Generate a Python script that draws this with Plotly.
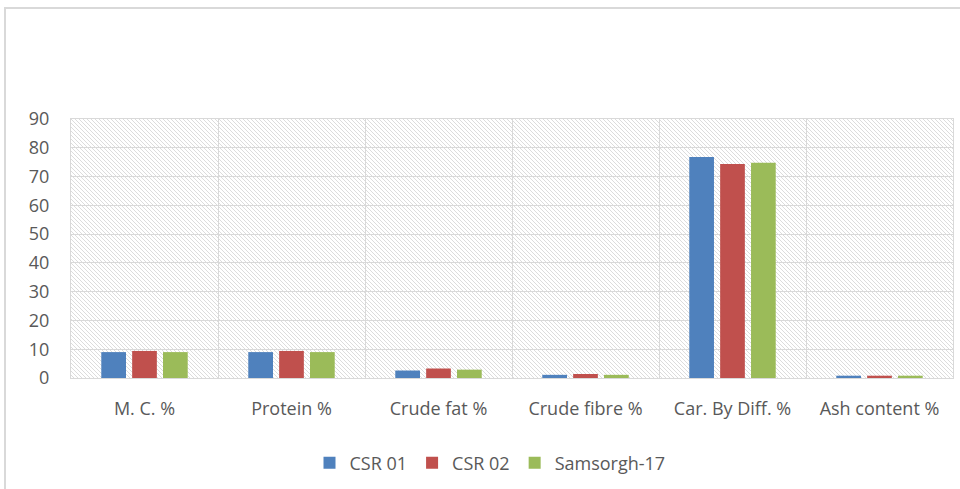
import base64
import plotly.graph_objects as go

categories = ["M. C. %", "Protein %", "Crude fat %", "Crude fibre %", "Car. By Diff. %", "Ash content %"]
csr01 = [9.0, 9.0, 2.6, 1.1, 76.8, 0.8]
csr02 = [9.4, 9.4, 3.3, 1.4, 74.4, 0.8]
samsorgh17 = [9.0, 9.0, 2.9, 1.1, 74.8, 0.8]
series_names = ["CSR 01", "CSR 02", "Samsorgh-17"]
colors = ["#4F81BD", "#C0504D", "#9BBB59"]
y_ticks = [0, 10, 20, 30, 40, 50, 60, 70, 80, 90]

W, H = 960, 489
L, R, T, B = 71, 7, 119, 111
pw, ph = W - L - R, H - T - B

svg = (
    f'<svg xmlns="http://www.w3.org/2000/svg" width="{pw}" height="{ph}">'
    '<defs><pattern id="h" patternUnits="userSpaceOnUse" width="4" height="4">'
    '<path d="M-1,-1 L5,5 M-1,3 L1,5 M3,-1 L5,1" stroke="#DCDCDC" stroke-width="1"/>'
    '</pattern></defs>'
    f'<rect width="{pw}" height="{ph}" fill="white"/>'
    f'<rect width="{pw}" height="{ph}" fill="url(#h)"/></svg>'
)
src = "data:image/svg+xml;base64," + base64.b64encode(svg.encode()).decode()

fig = go.Figure()
for name, vals, c in zip(series_names, [csr01, csr02, samsorgh17], colors):
    fig.add_trace(go.Bar(x=categories, y=vals, name=name, marker=dict(color=c, line=dict(width=0))))

font = "Open Sans"
tick_color = "#595959"
fs = 18

def px_to_paper_x(px):
    return (px - L) / pw

def px_to_paper_y(py):
    return (H - B - py) / ph

fig.update_layout(
    width=W, height=H,
    margin=dict(l=L, r=R, t=T, b=B),
    paper_bgcolor="white",
    plot_bgcolor="rgba(0,0,0,0)",
    barmode="group",
    bargap=0.37,
    bargroupgap=0.2,
    font=dict(family=font, size=fs, color=tick_color),
    images=[dict(source=src, xref="paper", yref="paper", x=0, y=1, sizex=1, sizey=1,
                 xanchor="left", yanchor="top", sizing="stretch", layer="below")],
    xaxis=dict(
        tickson="boundaries", showgrid=True, gridcolor="#D9D9D9", gridwidth=1,
        showline=True, linecolor="#D9D9D9", linewidth=1, mirror=True, automargin=False,
        ticks="", ticklabelstandoff=14, tickfont=dict(size=fs, color=tick_color),
    ),
    yaxis=dict(
        range=[0, 90], tickvals=y_ticks, showgrid=True, gridcolor="#D9D9D9", gridwidth=1,
        showline=True, linecolor="#D9D9D9", linewidth=1, mirror=True, zeroline=False,
        automargin=False,
        ticks="", ticklabelstandoff=17, tickfont=dict(size=fs, color=tick_color),
    ),
    legend=dict(
        orientation="h", x=px_to_paper_x(490), xanchor="center", y=px_to_paper_y(463), yanchor="middle",
        font=dict(size=fs, color=tick_color), itemwidth=30, bgcolor="rgba(0,0,0,0)",
    ),
    showlegend=True,
    shapes=[dict(type="rect", xref="paper", yref="paper",
                 x0=px_to_paper_x(5), x1=px_to_paper_x(975),
                 y0=px_to_paper_y(505), y1=px_to_paper_y(8),
                 line=dict(color="#D9D9D9", width=2), fillcolor="rgba(0,0,0,0)", layer="below")],
)

fig.write_html("out.html", config={"displayModeBar": False},
               post_script="document.body.style.margin='0';document.body.style.overflow='hidden';")
